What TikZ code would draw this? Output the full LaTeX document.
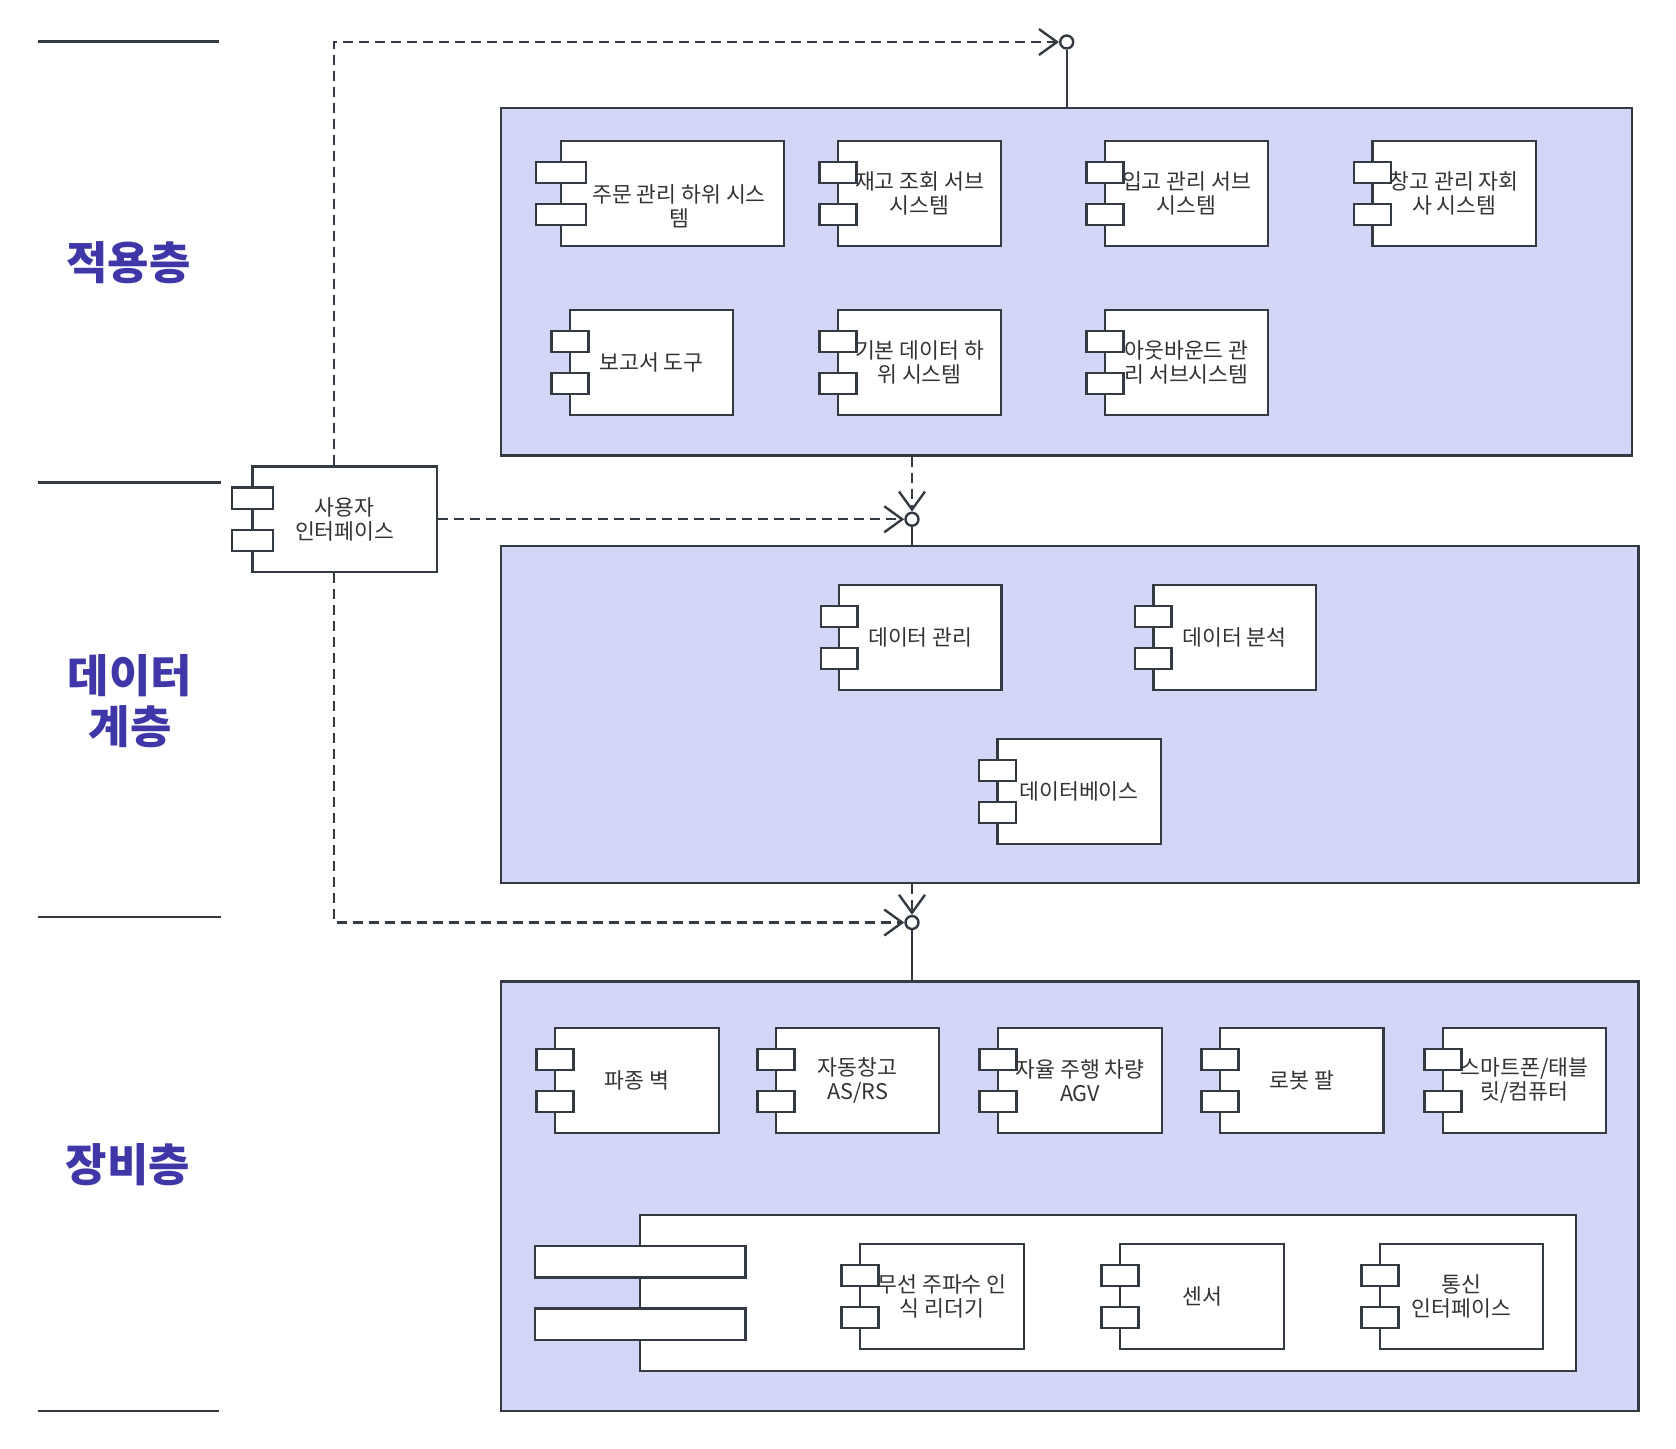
\documentclass[tikz,border=0pt]{standalone}
\usepackage{fontspec}
\setmainfont{Noto Sans CJK KR}
\usetikzlibrary{arrows.meta,fit,calc}
\definecolor{ln}{HTML}{333A42}
\definecolor{pane}{HTML}{D3D6F7}
\definecolor{lbl}{HTML}{3F37A8}
\definecolor{txt}{HTML}{333333}
\tikzset{
  pane/.style={draw=ln, fill=pane, line width=1.2pt, inner sep=0pt},
  body/.style={draw=ln, fill=white, line width=1.2pt, inner sep=0pt},
  port/.style={draw=ln, fill=white, line width=1.2pt},
  comptext/.style={text=txt, align=center, font=\fontsize{10.8pt}{12.2pt}\selectfont, inner sep=0pt},
  layer/.style={text=lbl, align=center, font=\fontsize{22.5pt}{25.5pt}\selectfont\bfseries, inner sep=0pt},
  dep/.style={draw=ln, line width=1.2pt, dash pattern=on 5pt off 3pt, -{Straight Barb[length=9pt,width=13pt,line width=1.2pt]}},
  lolli/.style={circle, draw=ln, fill=white, line width=1.2pt, minimum size=6.5pt, inner sep=0pt},
  solidln/.style={draw=ln, line width=1.2pt},
  sep/.style={draw=ln, line width=1.3pt}
}
\newcommand{\comp}[6]{%
  \node[fit={(#2,#3) (#4,#5)}, body] (#1) {};
  \pgfmathsetmacro{\pw}{0.225*(#4-#2)}
  \pgfmathsetmacro{\ph}{(#5-#3)/5}
  \draw[port] ({#2-\pw/2},{#3+\ph}) rectangle ({#2+\pw/2},{#3+2*\ph});
  \draw[port] ({#2-\pw/2},{#3+3*\ph}) rectangle ({#2+\pw/2},{#3+4*\ph});
  \node[comptext] (#1t) at (#1.center) {#6};
}
\begin{document}
\begin{tikzpicture}[x=0.5pt,y=-0.5pt]
\useasboundingbox (0,0) rectangle (1676,1448);
\fill[white] (0,0) rectangle (1676,1448);

% separators
\draw[sep] (37.5,41.7) -- (219,41.7);
\draw[sep] (37.5,482.5) -- (221,482.5);
\draw[sep] (37.5,917) -- (221,917);
\draw[sep] (37.5,1411) -- (219,1411);

% layer labels
\node[layer] (l1) at (128.5,263) {적용층};
\node[layer] (l2) at (130,701) {데이터\\계층};
\node[layer] (l3) at (128,1165) {장비층};

% panes
\node[fit={(501,108) (1632,455.4)}, pane] (app) {};
\node[fit={(501,546.2) (1638.6,882.9)}, pane] (data) {};
\node[fit={(501,981.3) (1638.6,1411)}, pane] (dev) {};

% application layer
\comp{a1}{561}{141}{784}{246}{}
\node[comptext] at (679,206) {주문 관리 하위 시스\\템};
\comp{a2}{838}{141}{1001}{246}{재고 조회 서브\\시스템}
\comp{a3}{1105}{141}{1268}{246}{입고 관리 서브\\시스템}
\comp{a4}{1372.5}{141}{1536}{246}{창고 관리 자회\\사 시스템}
\comp{b1}{570}{310}{733}{415}{보고서 도구}
\comp{b2}{838}{310}{1001}{415}{기본 데이터 하\\위 시스템}
\comp{b3}{1105}{310}{1268}{415}{아웃바운드 관\\리 서브시스템}

% data layer
\comp{d1}{839}{585}{1001.6}{690}{데이터 관리}
\comp{d2}{1153.3}{585}{1315.8}{690}{데이터 분석}
\comp{d3}{997.3}{739}{1160.8}{844}{데이터베이스}

% device layer
\comp{e1}{555}{1028}{719}{1133}{파종 벽}
\comp{e2}{776}{1028}{939}{1133}{자동창고\\AS/RS}
\comp{e3}{998}{1028}{1162}{1133}{자율 주행 차량\\AGV}
\comp{e4}{1220}{1028}{1383.5}{1133}{로봇 팔}
\comp{e5}{1443}{1028}{1606}{1133}{스마트폰/태블\\릿/컴퓨터}
\comp{big}{640}{1215}{1576}{1371}{}
\comp{f1}{860}{1244}{1024}{1349}{무선 주파수 인\\식 리더기}
\comp{f2}{1120}{1244}{1284}{1349}{센서}
\comp{f3}{1380}{1244}{1543}{1349}{통신\\인터페이스}

% user interface
\comp{ui}{252.5}{466.5}{437}{572}{사용자\\인터페이스}

% lollipops
\node[lolli] (c1) at (1066.7,42) {};
\node[lolli] (c2) at (912,519.25) {};
\node[lolli] (c3) at (912,922.5) {};

% connectors
\draw[dep] ($(ui.north west)+(82.5,0)$) |- (c1.west);
\draw[solidln] (c1.south) -- (c1.south |- app.north);
\draw[dep] (app.south -| c2) -- (c2.north);
\draw[dep] (ui.east) -- (c2.west);
\draw[solidln] (c2.south) -- (c2.south |- data.north);
\draw[dep] ($(ui.south west)+(82.5,0)$) |- (c3.west);
\draw[dep] (data.south -| c3) -- (c3.north);
\draw[solidln] (c3.south) -- (c3.south |- dev.north);
\end{tikzpicture}
\end{document}
